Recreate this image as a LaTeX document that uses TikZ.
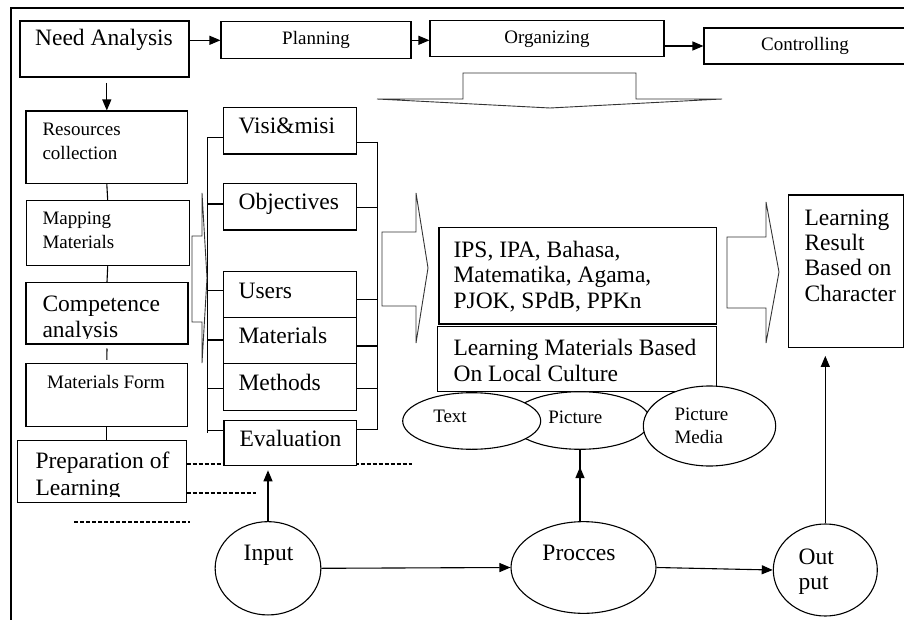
\documentclass[tikz,border=0pt]{standalone}
\usepackage{fontspec}
\setmainfont{Liberation Serif}
\usetikzlibrary{arrows.meta,shapes.geometric}
\newcommand{\bigtxt}{\fontsize{23.5}{25.5}\selectfont}
\newcommand{\smalltxt}{\fontsize{19}{23.3}\selectfont}

\begin{document}
\begin{tikzpicture}[x=1pt,y=-1pt,line width=1.1pt,
    >={Triangle[length=11pt,width=9pt]},
    box/.style={draw,fill=white,rectangle,inner sep=0pt},
    oval/.style={draw,fill=white,ellipse,inner sep=0pt},
    lbl/.style={inner sep=0pt,align=left,anchor=base west},
    dashln/.style={dash pattern=on 4pt off 2pt,line width=1.6pt},
    blk/.style={line width=0.9pt,draw=black!80}]
    \useasboundingbox (0,0) rectangle (904,620);
    \draw (11,620) -- (11,8) -- (904,8);

    % top row
    \node[box,minimum width=169pt,minimum height=56pt] (need) at (104.5,49) {};
    \node[lbl,anchor=base,font=\bigtxt] (tNeed) at (104,46) {Need Analysis};
    \node[box,minimum width=190pt,minimum height=36.7pt,font=\smalltxt] (plan) at (316,40.3) {Planning};
    \node[box,minimum width=234pt,minimum height=36.3pt,font=\smalltxt] (org) at (547,38.8) {Organizing};
    \node[box,minimum width=202pt,minimum height=36pt,font=\smalltxt] (ctrl) at (805,46) {Controlling};
    \draw[blk] (463,73) -- (636,73) -- (636,99) -- (722,99) -- (550,108) -- (377,99) -- (463,99) -- cycle;

    % left column
    \node[box,minimum width=161.7pt,minimum height=72.3pt] (res) at (106.8,147.2) {};
    \node[box,minimum width=163.3pt,minimum height=65pt] (map) at (107.7,233.2) {};
    \node[box,minimum width=162pt,minimum height=61.3pt] (comp) at (107,313.3) {};
    \node[box,minimum width=161.7pt,minimum height=62.7pt] (form) at (106.8,394.7) {};
    \node[box,minimum width=168.7pt,minimum height=62pt] (prep) at (101.7,471.7) {};
    \node[lbl,font=\smalltxt] (tRes) at (42,159.3) {Resources\\collection};
    \node[lbl,font=\smalltxt] (tMap) at (42,248) {Mapping\\Materials};
    \begin{scope}
        \clip (26,283) rectangle (188,338.5);
        \node[lbl,font=\bigtxt] (tComp) at (42,337) {Competence\\analysis};
    \end{scope}
    \node[lbl,anchor=base,font=\smalltxt] (tForm) at (106,388) {Materials Form};
    \begin{scope}
        \clip (17,441) rectangle (186,496.5);
        \node[lbl,font=\bigtxt] (tPrep) at (35,495) {Preparation of\\[1.5pt]Learning};
    \end{scope}

    % dashed lines
    \coordinate (d1e) at (412,464);
    \coordinate (d2e) at (256,492.7);
    \coordinate (d3a) at (74,521.7);
    \coordinate (d3b) at (190,521.7);
    \draw[dashln] (prep.east |- d1e) -- (d1e);
    \draw[dashln] (prep.east |- d2e) -- (d2e);
    \draw[dashln] (d3a) -- (d3b);

    % middle column
    \node[box,minimum width=133.4pt,minimum height=46.7pt] (visi) at (290,130.7) {};
    \node[box,minimum width=133.4pt,minimum height=46.7pt] (obj) at (290,206.7) {};
    \node[box,minimum width=133.4pt,minimum height=45.6pt] (users) at (290,294.5) {};
    \node[box,minimum width=133.4pt,minimum height=46pt] (mat) at (290,340.3) {};
    \node[box,minimum width=133.4pt,minimum height=46.7pt] (meth) at (290,386.7) {};
    \node[box,minimum width=132.7pt,minimum height=45.7pt] (eval) at (290.3,442.9) {};
    \node[lbl,font=\bigtxt] (tVisi) at (238,134) {Visi\&misi};
    \node[lbl,font=\bigtxt] (tObj) at (238,210) {Objectives};
    \node[lbl,font=\bigtxt] (tUsers) at (238,298) {Users};
    \node[lbl,font=\bigtxt] (tMat) at (238,343) {Materials};
    \node[lbl,font=\bigtxt] (tMeth) at (238,390.7) {Methods};
    \node[lbl,font=\bigtxt] (tEval) at (239,446.7) {Evaluation};
    \foreach \b/\y in {visi/137.3,obj/204,users/290.7,mat/340,meth/388.3,eval/430.7}
        \draw (\b.west |- 0,\y) -- (207.3,\y);
    \draw (207.3,137.3) -- (207.3,433.3);
    \foreach \b/\y in {visi/142.7,obj/207.3,users/299.3,mat/346,meth/388.3,eval/429.3}
        \draw (\b.east |- 0,\y) -- (377.3,\y);
    \draw (377.3,141.7) -- (377.3,430);
    \draw[blk] (192,236) -- (202,236) -- (202,193) -- (207,278) -- (202,363) -- (202,322) -- (192,322) -- cycle;
    \draw[blk] (382,232) -- (416,232) -- (416,193) -- (428,268) -- (416,343) -- (416,306) -- (382,306) -- cycle;

    % right part
    \node[box,minimum width=277.7pt,minimum height=96.3pt] (ips) at (577.8,275.8) {};
    \node[box,minimum width=279.4pt,minimum height=65pt] (lmb) at (577,359.2) {};
    \node[box,minimum width=114.7pt,minimum height=152.3pt] (lrc) at (845.7,271.2) {};
    \node[lbl,font=\bigtxt] (tIps) at (453,308) {IPS, IPA, Bahasa,\\Matematika, Agama,\\PJOK, SPdB, PPKn};
    \node[lbl,font=\bigtxt] (tLmb) at (453,381.5) {Learning Materials Based\\[1pt]On Local Culture};
    \node[lbl,font=\bigtxt] (tLrc) at (804,301.5) {Learning\\Result\\Based on\\Character};
    \draw[blk] (727,237) -- (766,237) -- (766,202) -- (779,272) -- (766,343) -- (766,308) -- (727,308) -- cycle;

    \node[oval,minimum width=140pt,minimum height=57.6pt] (pic) at (580,420.5) {};
    \node[oval,minimum width=138pt,minimum height=56.6pt] (txt) at (471.7,421) {};
    \node[oval,minimum width=132.4pt,minimum height=80pt] (pmed) at (709.5,426) {};
    \node[lbl,anchor=base,font=\smalltxt] (tTxt) at (450,422.7) {Text};
    \node[lbl,anchor=base,font=\smalltxt] (tPic) at (575.3,423.3) {Picture};
    \node[lbl,font=\smalltxt] (tPmed) at (674,443.3) {Picture\\Media};

    % bottom row
    \node[oval,minimum width=105.7pt,minimum height=93.3pt] (input) at (268,568.3) {};
    \node[oval,minimum width=145pt,minimum height=91.7pt] (proc) at (583.5,567.5) {};
    \node[oval,minimum width=104pt,minimum height=92pt] (out) at (825.3,570) {};
    \node[lbl,anchor=base,font=\bigtxt] (tInput) at (268.5,560) {Input};
    \node[lbl,anchor=base,font=\bigtxt] (tProc) at (579,560) {Procces};
    \node[lbl,font=\bigtxt] (tOut) at (798,589.8) {Out\\put};

    % connectors
    \coordinate (needd) at (106.8,83);
    \coordinate (pictip) at (580,467);
    \draw[->] (need.east |- plan.west) -- (plan.west);
    \draw[->] (plan.east) -- (org.west |- plan.east);
    \draw[->] (org.east |- ctrl.west) -- (ctrl.west);
    \draw[->] (needd) -- (res.north);
    \draw (res.south) -- (map.north);
    \draw (map.south) -- (comp.north);
    \draw ([yshift=-4pt]comp.south) -- ([yshift=3pt]form.north);
    \draw (form.south) -- (form.south |- prep.north);
    \draw[->,shorten >=4pt] (input.north) -- (input.north |- eval.south);
    \draw[->] (input.east) -- (proc.west);
    \draw[->] (proc.east) -- (out.west);
    \draw (pic.south |- proc.north) -- (pic.south);
    \draw[->] (pic.south |- proc.north) -- (pictip);
    \draw[->,shorten >=8pt] (out.north) -- (out.north |- lrc.south);
\end{tikzpicture}
\end{document}
